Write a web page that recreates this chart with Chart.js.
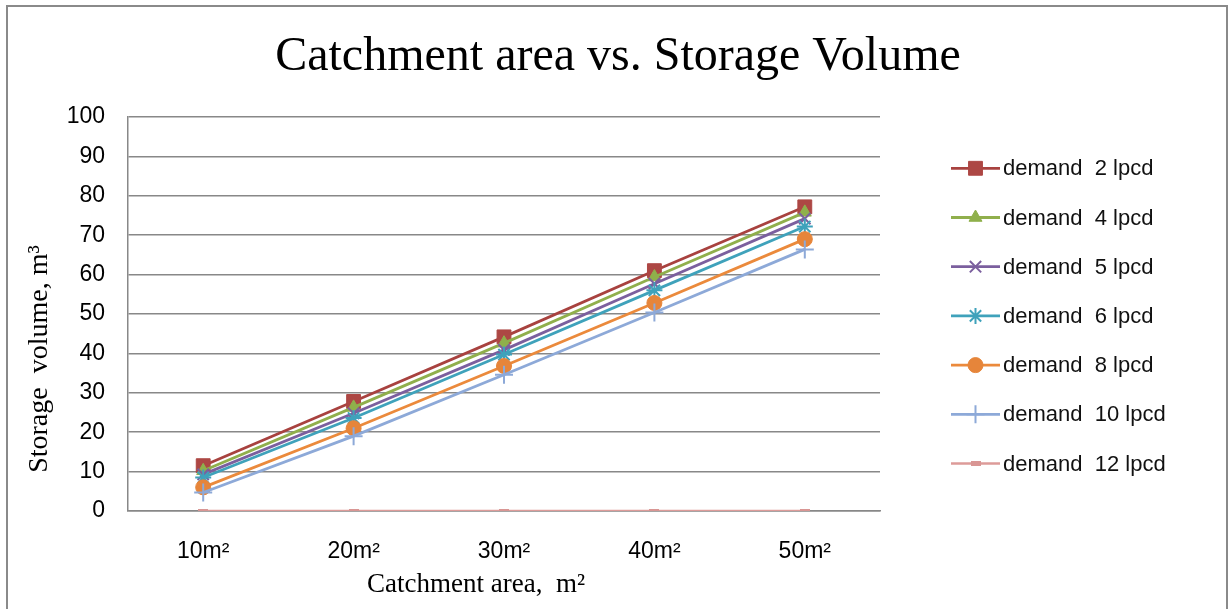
<!DOCTYPE html>
<html>
<head>
<meta charset="utf-8">
<script src="https://cdn.jsdelivr.net/npm/chart.js@4/dist/chart.umd.min.js"></script>
<style>
  html, body { margin: 0; padding: 0; background: #ffffff; overflow: hidden; }
  #wrap { width: 1229px; height: 609px; position: relative; }
</style>
</head>
<body>
<div id="wrap"><canvas id="c" width="1229" height="609"></canvas></div>
<script>
// Catchment area categories and storage volume (m³) for each daily demand
const categories = ['10m²', '20m²', '30m²', '40m²', '50m²'];
const demand2  = [11.5, 27.8, 44.2, 61.0, 77.2];
const demand4  = [10.2, 26.3, 42.6, 59.4, 75.8];
const demand5  = [9.3, 24.8, 40.9, 57.7, 74.2];
const demand6  = [8.5, 23.6, 39.7, 56.0, 72.2];
const demand8  = [6.0, 21.0, 36.8, 52.8, 69.0];
const demand10 = [4.7, 19.0, 34.6, 50.4, 66.4];
const demand12 = [0, 0, 0, 0, 0];
const seriesLabels = ['demand  2 lpcd', 'demand  4 lpcd', 'demand  5 lpcd', 'demand  6 lpcd',
                      'demand  8 lpcd', 'demand  10 lpcd', 'demand  12 lpcd'];
const yMin = 0, yMax = 100, yStep = 10;

const chartTitle = 'Catchment area vs. Storage Volume';
const xTitle = 'Catchment area,  m²';
const yTitle = 'Storage  volume, m³';

// small flat bar marker for the 12 lpcd series
function barMarker(color) {
  const c = document.createElement('canvas');
  c.width = 10; c.height = 5;
  const g = c.getContext('2d');
  g.fillStyle = color;
  g.fillRect(0, 0, 10, 5);
  return c;
}

const styles = [
  { line: '#A8423F', fill: '#AD4744', point: 'rect',      r: 9.8, bw: 1 },
  { line: '#90AF4C', fill: '#8FB04B', point: 'triangle',  r: 7.5, bw: 1 },
  { line: '#7B5F9E', fill: 'rgba(0,0,0,0)', point: 'crossRot', r: 8, bw: 2 },
  { line: '#3FA2BB', fill: 'rgba(0,0,0,0)', point: 'star', r: 8, bw: 2 },
  { line: '#EB8A3C', fill: '#E6853A', point: 'circle',    r: 7.5, bw: 1 },
  { line: '#8DA9D8', fill: 'rgba(0,0,0,0)', point: 'cross', r: 9, bw: 2 },
  { line: '#DD9B99', fill: '#D99694', point: barMarker('#D99694'), r: 5, bw: 1 }
];
const seriesValues = [demand2, demand4, demand5, demand6, demand8, demand10, demand12];

const datasets = seriesValues.map((vals, i) => ({
  label: seriesLabels[i],
  data: vals,
  borderColor: styles[i].line,
  backgroundColor: styles[i].fill,
  borderWidth: i === 6 ? 2.5 : 2.8,
  pointStyle: styles[i].point,
  pointRadius: styles[i].r,
  pointHoverRadius: styles[i].r,
  pointBorderColor: i === 6 ? styles[i].fill : (styles[i].bw === 2 ? styles[i].line : styles[i].fill),
  pointBackgroundColor: styles[i].fill,
  pointBorderWidth: styles[i].bw,
  tension: 0,
  order: seriesValues.length - i
}));

const GRID = '#888888';

// frame, titles and the series key
const decorations = {
  id: 'decorations',
  beforeDraw(chart) {
    const ctx = chart.ctx;
    ctx.save();
    ctx.fillStyle = '#ffffff';
    ctx.fillRect(0, 0, chart.width, chart.height);
    ctx.strokeStyle = '#8a8a8a';
    ctx.lineWidth = 2;
    ctx.beginPath();
    ctx.moveTo(7, 640);
    ctx.lineTo(7, 6);
    ctx.lineTo(1227, 6);
    ctx.lineTo(1227, 640);
    ctx.stroke();
    ctx.restore();
  },
  afterDraw(chart) {
    const ctx = chart.ctx;
    ctx.save();
    ctx.fillStyle = '#000000';
    ctx.textAlign = 'center';
    ctx.textBaseline = 'middle';
    ctx.font = '48px "Liberation Serif", "Times New Roman", serif';
    ctx.fillText(chartTitle, 618, 57);
    ctx.font = '27px "Liberation Serif", "Times New Roman", serif';
    ctx.fillText(xTitle, 476, 585);
    ctx.save();
    ctx.translate(40, 359);
    ctx.rotate(-Math.PI / 2);
    ctx.font = '28px "Liberation Serif", "Times New Roman", serif';
    ctx.fillText(yTitle, 0, 0);
    ctx.restore();

    // key
    const x0 = 951, x1 = 1000, xm = 975.5, top = 168.3, step = 49.2;
    chart.data.datasets.forEach((ds, i) => {
      const y = top + i * step;
      ctx.strokeStyle = ds.borderColor;
      ctx.lineWidth = ds.borderWidth;
      ctx.beginPath();
      ctx.moveTo(x0, y);
      ctx.lineTo(x1, y);
      ctx.stroke();
      ctx.fillStyle = ds.pointBackgroundColor;
      ctx.strokeStyle = ds.pointBorderColor;
      ctx.lineWidth = ds.pointBorderWidth;
      Chart.helpers.drawPoint(ctx, {
        pointStyle: ds.pointStyle, radius: ds.pointRadius, rotation: 0, borderWidth: ds.pointBorderWidth
      }, xm, y);
      ctx.fillStyle = '#111111';
      ctx.textAlign = 'left';
      ctx.textBaseline = 'middle';
      ctx.font = '22px "Liberation Sans", Arial, sans-serif';
      ctx.fillText(ds.label, 1003, y + 1);
    });
    ctx.restore();
  }
};

new Chart(document.getElementById('c'), {
  type: 'line',
  data: { labels: categories, datasets },
  options: {
    responsive: false,
    animation: false,
    devicePixelRatio: 1,
    layout: { padding: { top: 117, right: 349, left: 0, bottom: 0 } },
    plugins: {
      legend: { display: false },
      title: { display: false },
      tooltip: { enabled: false }
    },
    scales: {
      x: {
        type: 'category',
        offset: true,
        grid: { display: false, drawTicks: false },
        border: { display: true, color: GRID, width: 1.5 },
        ticks: {
          color: '#000000',
          padding: 27,
          maxRotation: 0,
          font: { family: '"Liberation Sans", Arial, sans-serif', size: 23 }
        },
        afterFit(scale) { scale.height = 98; }
      },
      y: {
        min: yMin,
        max: yMax,
        grid: { color: GRID, lineWidth: 1.5, drawTicks: false },
        border: { display: true, color: GRID, width: 1.5 },
        ticks: {
          stepSize: yStep,
          color: '#000000',
          padding: 23,
          font: { family: '"Liberation Sans", Arial, sans-serif', size: 23 }
        },
        afterFit(scale) { scale.width = 128; }
      }
    }
  },
  plugins: [decorations]
});
</script>
</body>
</html>
